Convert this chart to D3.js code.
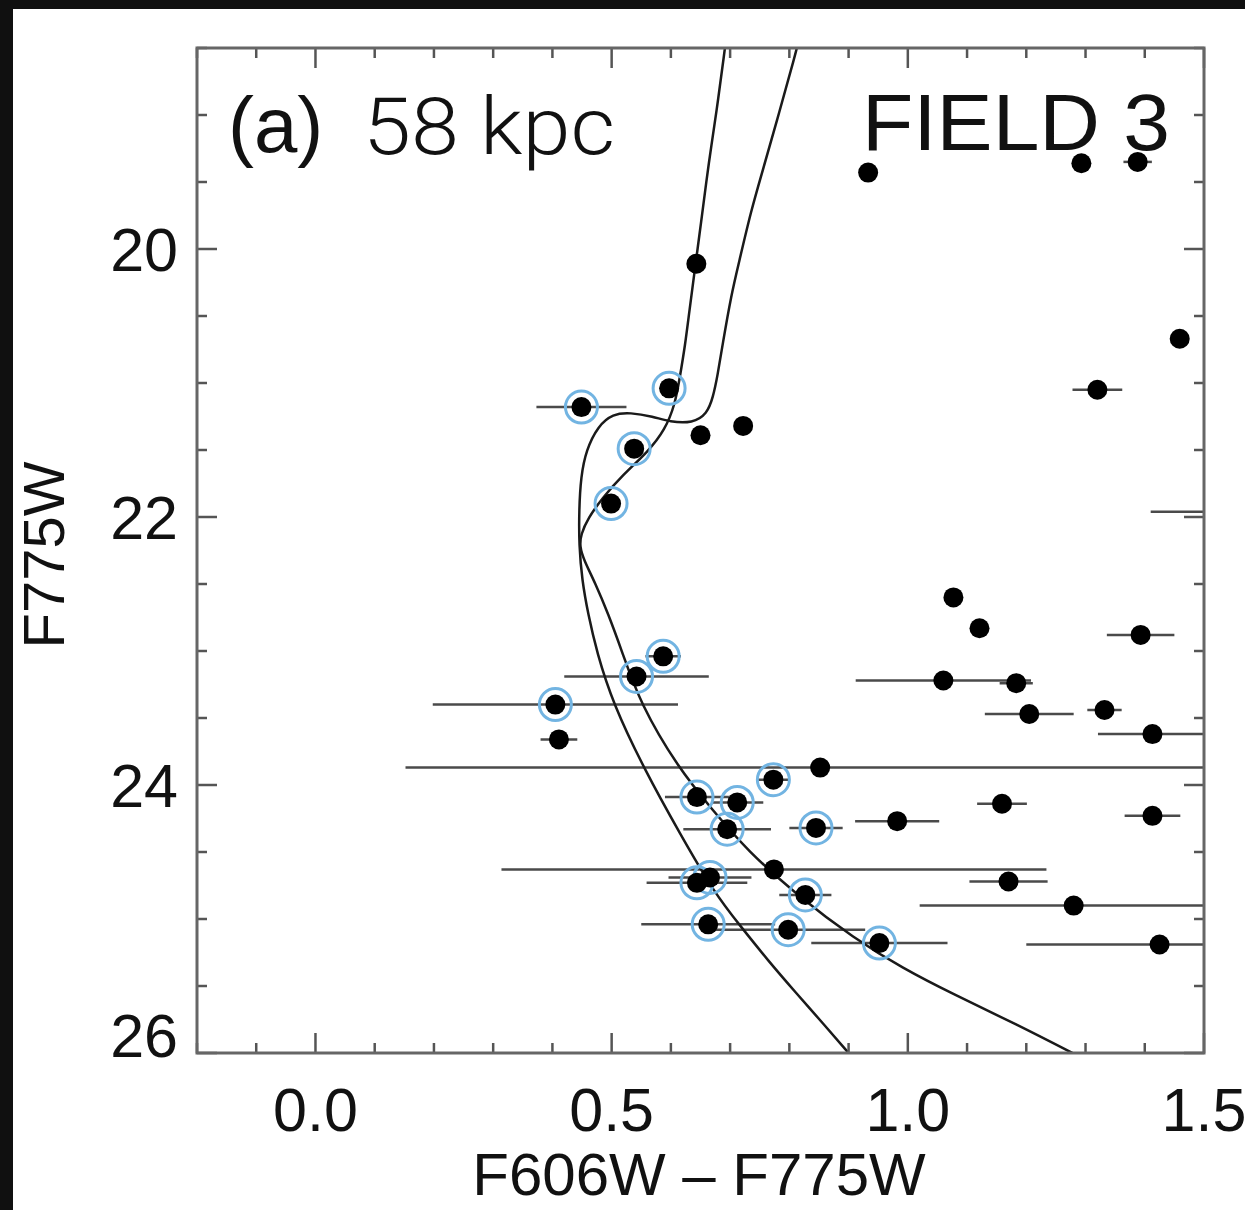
<!DOCTYPE html>
<html>
<head>
<meta charset="utf-8">
<script src="https://cdn.jsdelivr.net/npm/d3@7"></script>
<style>
  body { margin: 0; background: #101010; }
  .tickLabel { font-family: "Liberation Sans", Arial, sans-serif; font-size: 61px; fill: #111; }
  .axisTitle { font-family: "Liberation Sans", Arial, sans-serif; font-size: 60px; fill: #111; }
</style>
</head>
<body>
<div id="cmd"></div>
<script>
// Stars: colour (F606W - F775W), magnitude (F775W), colour error, blue ring flag
var starColor = [0.933, 1.293, 1.388, 0.643, 1.459, 1.320, 0.597, 0.449, 0.650, 0.722,
  0.538, 0.499, 1.520, 1.077, 1.121, 1.393, 0.587, 0.542, 1.060, 1.183,
  0.405, 1.205, 1.332, 1.413, 0.411, 0.852, 0.773, 0.644, 0.712, 0.695,
  0.845, 0.982, 1.159, 1.413, 0.774, 0.666, 0.644, 1.170, 0.827, 1.280,
  0.663, 0.798, 0.952, 1.425];
var starMag = [19.43, 19.36, 19.35, 20.11, 20.67, 21.05, 21.04, 21.18, 21.39, 21.32,
  21.49, 21.90, 21.96, 22.60, 22.83, 22.88, 23.04, 23.19, 23.22, 23.24,
  23.40, 23.47, 23.44, 23.62, 23.66, 23.87, 23.96, 24.09, 24.13, 24.33,
  24.32, 24.27, 24.14, 24.23, 24.63, 24.69, 24.73, 24.72, 24.82, 24.90,
  25.04, 25.08, 25.18, 25.19];
var starErr = [0, 0, 0.024, 0, 0, 0.042, 0, 0.076, 0, 0,
  0, 0, 0.11, 0, 0, 0.057, 0.03, 0.122, 0.148, 0.028,
  0.207, 0.075, 0.029, 0.092, 0.031, 0.70, 0.027, 0.054, 0.044, 0.074,
  0.045, 0.071, 0.042, 0.047, 0.46, 0.07, 0.085, 0.066, 0.044, 0.26,
  0.113, 0.13, 0.115, 0.225];
var starRing = [0, 0, 0, 0, 0, 0, 1, 1, 0, 0,
  1, 1, 0, 0, 0, 0, 1, 1, 0, 0,
  1, 0, 0, 0, 0, 0, 1, 1, 1, 1,
  1, 0, 0, 0, 0, 1, 1, 0, 1, 0,
  1, 1, 1, 0];

// Isochrone 1 (left at the top)
var iso1Color = [0.693, 0.691, 0.677, 0.664, 0.652, 0.642, 0.631, 0.624, 0.615, 0.607,
  0.590, 0.562, 0.518, 0.484, 0.460, 0.448, 0.446, 0.453, 0.472, 0.494,
  0.518, 0.548, 0.612, 0.671, 0.729, 0.818, 0.908, 0.992, 1.076, 1.181,
  1.291];
var iso1Mag = [18.44, 18.51, 18.98, 19.35, 19.77, 20.10, 20.47, 20.72, 20.96, 21.16,
  21.35, 21.51, 21.69, 21.86, 22.01, 22.13, 22.22, 22.32, 22.49, 22.72,
  23.01, 23.39, 23.87, 24.19, 24.49, 24.84, 25.14, 25.37, 25.56, 25.78,
  26.03];

// Isochrone 2 (right at the top, with the kink)
var iso2Color = [0.816, 0.810, 0.783, 0.754, 0.735, 0.715, 0.702, 0.687, 0.679, 0.671,
  0.661, 0.637, 0.598, 0.570, 0.531, 0.502, 0.477, 0.457, 0.448, 0.445,
  0.445, 0.450, 0.460, 0.475, 0.502, 0.556, 0.615, 0.674, 0.717, 0.764,
  0.811, 0.857, 0.904];
var iso2Mag = [18.44, 18.55, 18.98, 19.43, 19.72, 20.10, 20.34, 20.72, 20.94, 21.11,
  21.23, 21.30, 21.29, 21.25, 21.22, 21.23, 21.32, 21.50, 21.70, 21.95,
  22.21, 22.47, 22.72, 23.01, 23.39, 23.89, 24.36, 24.81, 25.05, 25.31,
  25.55, 25.78, 26.02];

var xTickLabels = [0.0, 0.5, 1.0, 1.5];
var yTickLabels = [20, 22, 24, 26];

// Page size and plot box
var svgWidth = 1245;
var svgHeight = 1210;
var plotLeft = 197;
var plotRight = 1204;
var plotTop = 48;
var plotBottom = 1053;

var svg = d3.select("#cmd")
  .append("svg")
  .attr("width", svgWidth)
  .attr("height", svgHeight);

// white panel on the dark border
svg.append("rect")
  .attr("x", 13).attr("y", 9)
  .attr("width", svgWidth - 13).attr("height", svgHeight - 9)
  .attr("fill", "#ffffff");

var xScale = d3.scaleLinear().domain([-0.2, 1.5]).range([plotLeft, plotRight]);
var yScale = d3.scaleLinear().domain([18.5, 26]).range([plotTop, plotBottom]);

svg.append("clipPath").attr("id", "plotClip")
  .append("rect")
  .attr("x", plotLeft).attr("y", plotTop)
  .attr("width", plotRight - plotLeft).attr("height", plotBottom - plotTop);

var stars = starColor.map(function(c, i) {
  return { color: c, mag: starMag[i], err: starErr[i], ring: starRing[i] };
});

var plot = svg.append("g").attr("clip-path", "url(#plotClip)");

// Error bars
plot.selectAll(".errBar")
  .data(stars.filter(function(d) { return d.err > 0; }))
  .enter()
  .append("line")
  .attr("class", "errBar")
  .attr("x1", function(d) { return xScale(d.color - d.err); })
  .attr("x2", function(d) { return xScale(d.color + d.err); })
  .attr("y1", function(d) { return yScale(d.mag); })
  .attr("y2", function(d) { return yScale(d.mag); })
  .attr("stroke", "#4a4a4a")
  .attr("stroke-width", 2.5);

// Isochrones (smoothed through the traced points)
var isoLine = d3.line()
  .x(function(d) { return xScale(d[0]); })
  .y(function(d) { return yScale(d[1]); })
  .curve(d3.curveBasis);

[[iso1Color, iso1Mag], [iso2Color, iso2Mag]].forEach(function(iso) {
  plot.append("path")
    .datum(iso[0].map(function(c, i) { return [c, iso[1][i]]; }))
    .attr("d", isoLine)
    .attr("fill", "none")
    .attr("stroke", "#1a1a1a")
    .attr("stroke-width", 2.5);
});

// Blue rings round the selected stars
plot.selectAll(".ring")
  .data(stars.filter(function(d) { return d.ring; }))
  .enter()
  .append("circle")
  .attr("class", "ring")
  .attr("cx", function(d) { return xScale(d.color); })
  .attr("cy", function(d) { return yScale(d.mag); })
  .attr("r", 16)
  .attr("fill", "none")
  .attr("stroke", "#72b4e2")
  .attr("stroke-width", 3);

plot.selectAll(".star")
  .data(stars)
  .enter()
  .append("circle")
  .attr("class", "star")
  .attr("cx", function(d) { return xScale(d.color); })
  .attr("cy", function(d) { return yScale(d.mag); })
  .attr("r", 10)
  .attr("fill", "#000");

// Ticks on all four sides, pointing inwards
var xMinor = d3.range(-2, 16).map(function(i) { return i / 10; });
var yMinor = d3.range(37, 53).map(function(i) { return i / 2; });

function tickLen(v, majors) {
  return majors.some(function(m) { return Math.abs(m - v) < 1e-6; }) ? 20 : 10;
}

var ticks = svg.append("g").attr("stroke", "#555").attr("stroke-width", 2.5);
xMinor.forEach(function(v) {
  var len = tickLen(v, xTickLabels);
  ticks.append("line").attr("x1", xScale(v)).attr("x2", xScale(v))
    .attr("y1", plotBottom).attr("y2", plotBottom - len);
  ticks.append("line").attr("x1", xScale(v)).attr("x2", xScale(v))
    .attr("y1", plotTop).attr("y2", plotTop + len);
});
yMinor.forEach(function(v) {
  var len = tickLen(v, yTickLabels);
  ticks.append("line").attr("y1", yScale(v)).attr("y2", yScale(v))
    .attr("x1", plotLeft).attr("x2", plotLeft + len);
  ticks.append("line").attr("y1", yScale(v)).attr("y2", yScale(v))
    .attr("x1", plotRight).attr("x2", plotRight - len);
});

// Frame
svg.append("rect")
  .attr("x", plotLeft).attr("y", plotTop)
  .attr("width", plotRight - plotLeft).attr("height", plotBottom - plotTop)
  .attr("fill", "none")
  .attr("stroke", "#666")
  .attr("stroke-width", 3);

// Tick labels
svg.selectAll(".xLab")
  .data(xTickLabels)
  .enter()
  .append("text")
  .attr("class", "tickLabel")
  .attr("x", function(d) { return xScale(d); })
  .attr("y", 1131)
  .attr("text-anchor", "middle")
  .text(function(d) { return d3.format(".1f")(d); });

svg.selectAll(".yLab")
  .data(yTickLabels)
  .enter()
  .append("text")
  .attr("class", "tickLabel")
  .attr("x", 178)
  .attr("y", function(d) { return d === 26 ? yScale(d) + 4 : yScale(d) + 22; })
  .attr("text-anchor", "end")
  .text(function(d) { return d; });

// Axis titles
svg.append("text")
  .attr("class", "axisTitle")
  .attr("x", 699).attr("y", 1195)
  .attr("text-anchor", "middle")
  .text("F606W \u2013 F775W");

svg.append("text")
  .attr("class", "axisTitle")
  .attr("transform", "translate(64,555)rotate(-90)")
  .attr("text-anchor", "middle")
  .style("font-size", "58px")
  .text("F775W");

// Panel annotations
svg.append("text")
  .attr("x", 228).attr("y", 152)
  .style("font-family", "'Liberation Sans', Arial, sans-serif")
  .style("font-size", "78px")
  .attr("fill", "#111")
  .text("(a)");

svg.append("text")
  .attr("x", 363).attr("y", 154)
  .attr("textLength", 252)
  .attr("lengthAdjust", "spacingAndGlyphs")
  .style("font-family", "Roboto, 'Liberation Sans', sans-serif")
  .style("font-weight", 300)
  .style("font-size", "80px")
  .attr("fill", "#111")
  .text("58 kpc");

svg.append("text")
  .attr("x", 862).attr("y", 150)
  .attr("textLength", 308)
  .attr("lengthAdjust", "spacingAndGlyphs")
  .style("font-family", "'Liberation Sans', Arial, sans-serif")
  .style("font-size", "80px")
  .attr("fill", "#111")
  .text("FIELD 3");
</script>
</body>
</html>
